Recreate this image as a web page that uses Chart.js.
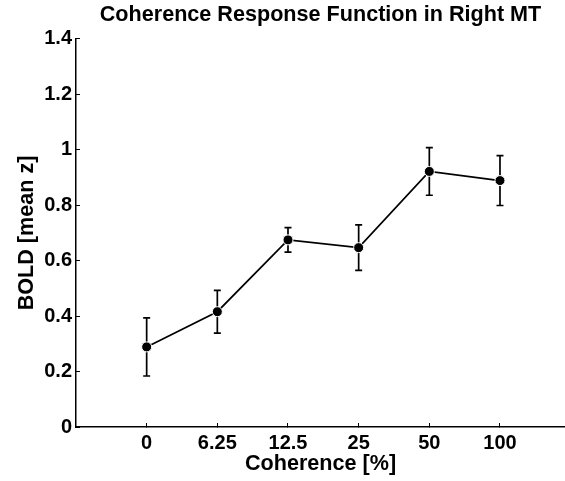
<!DOCTYPE html>
<html>
<head>
<meta charset="utf-8">
<script src="https://cdn.jsdelivr.net/npm/chart.js@4"></script>
<style>
  body { margin: 0; background: #fff; }
  canvas { display: block; }
</style>
</head>
<body>
<canvas id="coherenceChart" width="565" height="481"></canvas>
<script>
// Data
const coherenceLevels = ["0", "6.25", "12.5", "25", "50", "100"];
const boldMean = [0.289, 0.416, 0.675, 0.647, 0.922, 0.889];
const boldSem = [0.105, 0.077, 0.044, 0.082, 0.086, 0.090];
const yTicks = [0, 0.2, 0.4, 0.6, 0.8, 1, 1.2, 1.4];

const fontFamily = "'Liberation Sans', Arial, Helvetica, sans-serif";

// error bars drawn under the markers
const errorBars = {
  id: "errorBars",
  beforeDatasetsDraw(chart) {
    const ctx = chart.ctx;
    const xs = chart.scales.x;
    const ys = chart.scales.y;
    ctx.save();
    ctx.strokeStyle = "#000";
    ctx.lineWidth = 1.7;
    boldMean.forEach((m, i) => {
      const px = xs.getPixelForValue(i + 1);
      const top = ys.getPixelForValue(m + boldSem[i]);
      const bot = ys.getPixelForValue(m - boldSem[i]);
      ctx.beginPath();
      ctx.moveTo(px, top);
      ctx.lineTo(px, bot);
      ctx.moveTo(px - 3.5, top);
      ctx.lineTo(px + 3.5, top);
      ctx.moveTo(px - 3.5, bot);
      ctx.lineTo(px + 3.5, bot);
      ctx.stroke();
    });
    ctx.restore();
  },
};

new Chart(document.getElementById("coherenceChart"), {
  type: "line",
  data: {
    datasets: [
      {
        data: boldMean.map((v, i) => ({ x: i + 1, y: v })),
        borderColor: "#000",
        borderWidth: 1.7,
        pointRadius: 5,
        pointBackgroundColor: "#000",
        pointBorderColor: "#fff",
        pointBorderWidth: 1,
        tension: 0,
      },
    ],
  },
  options: {
    responsive: false,
    animation: false,
    layout: { padding: 0, autoPadding: false },
    plugins: {
      legend: { display: false },
      tooltip: { enabled: false },
      title: {
        display: true,
        text: "Coherence Response Function in Right MT",
        fullSize: false,
        color: "#000",
        font: { family: fontFamily, size: 21.6, weight: "bold" },
        padding: { top: 2, bottom: 11 },
      },
    },
    scales: {
      x: {
        type: "linear",
        min: 0,
        max: 6.92,
        afterBuildTicks: (scale) => {
          scale.ticks = coherenceLevels.map((_, i) => ({ value: i + 1 }));
        },
        afterFit: (scale) => {
          scale.height = 54;
          scale.paddingLeft = 0;
          scale.paddingRight = 0;
        },
        ticks: {
          callback: (v) => coherenceLevels[v - 1],
          color: "#000",
          font: { family: fontFamily, size: 20, weight: "bold" },
          padding: 8,
          maxRotation: 0,
        },
        grid: { drawOnChartArea: false, tickLength: -4, color: "#000", lineWidth: 1 },
        border: { color: "#000", width: 1.5 },
        title: {
          display: true,
          text: "Coherence [%]",
          color: "#000",
          font: { family: fontFamily, size: 21.6, weight: "bold" },
          padding: { top: 0, bottom: 4 },
        },
      },
      y: {
        min: 0,
        max: 1.4,
        afterBuildTicks: (scale) => {
          scale.ticks = yTicks.map((v) => ({ value: v }));
        },
        afterFit: (scale) => {
          scale.width = 76;
        },
        ticks: {
          callback: (v) => String(v),
          color: "#000",
          font: { family: fontFamily, size: 20, weight: "bold" },
          padding: 8,
        },
        grid: { drawOnChartArea: false, tickLength: -4, color: "#000", lineWidth: 1 },
        border: { color: "#000", width: 1.5 },
        title: {
          display: true,
          text: "BOLD [mean z]",
          color: "#000",
          font: { family: fontFamily, size: 21.6, weight: "bold" },
          padding: { top: 14, bottom: 0 },
        },
      },
    },
  },
  plugins: [errorBars],
});
</script>
</body>
</html>
